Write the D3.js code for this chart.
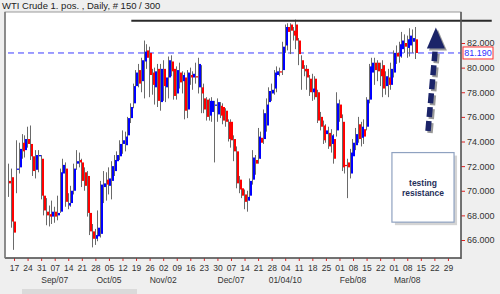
<!DOCTYPE html>
<html>
<head>
<meta charset="utf-8">
<script src="https://cdn.jsdelivr.net/npm/d3@7"></script>
<style>
  body { margin: 0; background: #efefef; }
  svg { display: block; font-family: "Liberation Sans", Arial, sans-serif; }
</style>
</head>
<body>
<svg id="chart" width="500" height="294"></svg>
<script>
// daily bars
const opens  = [70.8,71.1,67.5,71.7,71.9,73.9,73.3,74.2,73.8,72.8,71.7,72.8,72.6,69.6,68.3,68.1,67.9,68.3,68.0,68.3,
                71.4,71.8,68.8,69.0,70.0,72.2,72.5,72.3,71.5,71.2,68.2,66.7,66.1,66.3,66.5,70.3,70.9,70.4,70.8,71.6,
                72.4,72.8,73.8,73.7,74.5,75.9,77.1,78.5,79.8,78.9,80.5,81.4,81.2,79.6,78.4,79.9,77.2,79.9,78.4,79.2,
                80.5,79.9,77.9,79.6,78.9,79.2,76.6,79.4,79.2,79.3,78.4,78.4,77.5,77.4,76.1,76.4,76.9,76.2,76.9,76.8,
                76.5,75.6,75.6,74.2,73.2,70.9,70.2,69.7,69.2,69.6,70.9,72.5,72.6,74.3,74.2,75.3,77.2,77.9,78.3,79.4,
                79.7,79.8,81.8,83.3,83.5,83.0,83.5,82.2,80.6,79.9,79.9,79.1,78.0,79.1,78.0,76.0,75.3,74.6,74.7,73.8,
                74.2,74.9,77.0,75.6,72.1,72.3,71.4,72.8,73.7,75.4,74.3,75.0,75.2,77.4,79.6,80.4,80.4,79.9,80.2,78.5,
                79.2,78.6,79.6,81.2,80.9,81.5,82.0,81.6,81.8,82.1,82.3];
const highs  = [72.2,71.8,67.7,74.1,73.9,74.6,74.5,75.2,75.3,73.4,73.3,73.3,72.9,70.2,69.4,68.8,69.2,68.7,69.6,71.8,
                72.6,72.3,69.8,70.4,72.2,73.3,73.1,72.6,71.9,71.6,68.6,67.3,66.9,68.4,70.8,71.6,71.5,71.9,72.4,72.9,
                73.2,74.1,74.9,74.8,76.0,77.1,78.7,79.8,80.3,80.8,82.2,81.9,81.7,79.9,80.0,80.3,80.3,80.6,79.6,80.9,
                81.0,80.3,80.1,80.4,79.7,79.6,79.8,80.0,79.7,80.4,80.8,80.2,78.7,77.6,77.5,77.6,77.3,77.5,77.2,77.1,
                76.7,75.8,75.8,74.5,73.6,71.2,70.6,70.1,70.0,71.0,73.3,72.9,75.1,74.8,76.6,77.5,78.4,78.7,79.8,80.1,
                80.0,82.1,83.5,83.6,83.6,83.3,83.9,82.4,81.0,80.2,80.2,79.4,79.5,79.3,78.2,76.4,75.7,75.4,75.2,75.0,
                74.6,78.0,77.4,76.2,73.0,72.6,73.4,74.2,75.1,76.0,75.6,75.8,77.6,80.3,80.8,80.8,80.6,80.4,80.6,79.7,
                79.9,80.4,81.4,81.8,82.1,82.9,82.7,82.6,83.2,83.1,83.3];
const lows   = [69.5,67.0,65.2,69.8,71.4,72.6,72.7,73.5,72.5,71.2,71.0,71.5,69.3,68.0,67.2,67.1,67.3,67.4,67.6,68.2,
                71.0,68.7,68.5,68.7,69.7,71.7,71.9,70.3,70.0,67.9,66.4,65.4,65.6,65.9,66.2,69.0,69.2,69.7,69.3,71.2,
                71.6,72.5,73.0,73.2,74.3,75.5,76.7,77.2,78.4,78.0,77.5,79.9,77.6,77.8,77.0,76.8,76.5,77.3,77.2,77.5,
                79.3,77.4,77.4,78.3,77.9,75.8,75.9,78.6,78.2,78.7,77.9,76.3,76.3,75.7,75.7,75.6,72.3,75.6,75.9,75.4,
                75.2,74.0,73.5,72.4,70.2,69.8,69.4,68.5,68.3,69.2,70.5,71.3,72.2,72.6,73.8,74.8,76.5,77.3,77.8,78.0,
                79.3,79.4,81.2,81.4,81.1,82.2,81.5,80.2,78.2,79.3,78.2,77.7,77.3,77.4,75.5,74.9,73.8,73.9,73.4,73.1,
                72.2,74.4,75.6,71.6,71.4,69.4,71.0,72.4,73.3,73.9,73.6,73.8,74.9,77.1,79.0,78.6,78.9,78.5,77.6,77.8,
                77.6,78.2,79.2,80.3,80.4,80.8,81.2,80.8,80.9,81.2,80.7];
const closes = [70.6,67.5,66.6,71.8,73.4,73.2,74.2,73.8,72.8,71.6,72.9,72.9,69.6,68.4,68.0,67.9,68.3,67.9,68.2,71.5,
                72.1,69.1,69.0,70.0,71.8,72.4,72.3,70.8,70.4,68.2,66.7,66.1,66.4,67.0,70.5,70.6,70.5,71.0,72.0,72.5,
                72.9,73.8,74.1,74.4,75.9,76.8,78.5,79.6,78.7,80.6,81.3,80.8,79.4,78.6,79.7,77.3,79.9,78.5,79.2,80.6,
                79.7,77.7,79.8,78.8,79.4,76.5,79.6,79.2,79.5,79.2,80.3,77.9,76.6,76.0,77.3,77.3,77.0,77.2,76.1,75.7,
                75.6,74.2,74.1,73.2,70.6,70.1,69.6,69.1,69.5,70.8,72.7,72.2,74.4,73.9,76.3,77.0,78.1,78.2,79.6,79.7,
                79.6,81.7,83.3,82.9,83.0,82.6,82.2,81.1,79.9,79.7,79.2,78.0,78.3,77.6,75.7,75.2,74.1,74.9,73.6,74.5,
                72.6,77.1,75.9,71.9,72.0,71.9,73.1,73.9,74.6,74.2,75.2,74.4,77.4,80.1,80.4,79.8,79.7,79.3,78.3,79.3,
                78.6,79.9,81.2,80.9,81.9,82.2,81.7,82.3,82.6,82.4,81.19];

const tickLabels  = ['17','24','31','07','14','21','28','05','12','19','26','02','09','16','23','30','07',
                     '14','21','28','04','11','18','25','01','08','15','22','01','08','15','22','29'];
const monthLabels = ['Sep/07','Oct/05','Nov/02','Dec/07','01/04/10','Feb/08','Mar/08'];
const monthAtTick = [3, 7, 11, 16, 20, 25, 29];
const yTicks      = [66, 68, 70, 72, 74, 76, 78, 80, 82];
const lastPrice   = 81.19;
const resistance  = 83.8;

const bars = opens.map((o, i) => ({ i: i, o: o, h: highs[i], l: lows[i], c: closes[i] }));

const svg = d3.select('#chart');
const plot = { left: 5, top: 12, right: 461, bottom: 258 };

// bar index -> px, 5 bars a week
const x = d3.scaleLinear().domain([0, 150]).range([9, 415.8]);
const y = d3.scaleLinear().domain([66, 82]).range([240, 43]);
const tickIdx = tickLabels.map((d, j) => 1.85 + 5 * j);

// title
svg.append('text')
    .attr('x', 2).attr('y', 9)
    .attr('font-size', 9.5).attr('fill', '#222')
    .text('WTI Crude 1. pos. , Daily, # 150 / 300');

// scroll strip at the bottom
svg.append('rect')
    .attr('x', 22).attr('y', 289).attr('width', 115).attr('height', 5)
    .attr('fill', '#dadada');

// plot frame
svg.append('rect')
    .attr('x', plot.left).attr('y', plot.top)
    .attr('width', plot.right - plot.left).attr('height', plot.bottom - plot.top)
    .attr('fill', '#fff').attr('stroke', '#9a9a9a');

// current price dashed line
svg.append('line')
    .attr('x1', plot.left + 3).attr('x2', plot.right)
    .attr('y1', y(lastPrice)).attr('y2', y(lastPrice))
    .attr('stroke', '#3b3bff').attr('stroke-width', 1)
    .attr('stroke-dasharray', '6,4');

// bars
const g = svg.append('g');
g.selectAll('line.wick')
    .data(bars)
    .join('line')
    .attr('class', 'wick')
    .attr('x1', d => Math.round(x(d.i)) - 0.5)
    .attr('x2', d => Math.round(x(d.i)) - 0.5)
    .attr('y1', d => y(d.h))
    .attr('y2', d => y(d.l))
    .attr('stroke', '#6a6a6a').attr('stroke-width', 1);

g.selectAll('rect.body')
    .data(bars)
    .join('rect')
    .attr('class', 'body')
    .attr('x', d => Math.round(x(d.i)))
    .attr('width', 2)
    .attr('y', d => y(Math.max(d.o, d.c)))
    .attr('height', d => Math.max(1, Math.abs(y(d.o) - y(d.c))))
    .attr('fill', d => d.c >= d.o ? '#0000ff' : '#ff0000');

// resistance line
svg.append('line')
    .attr('x1', x(45.1)).attr('x2', x(178))
    .attr('y1', y(resistance)).attr('y2', y(resistance))
    .attr('stroke', '#2a2a2a').attr('stroke-width', 2);

// right axis
const yAxis = svg.append('g')
    .attr('transform', `translate(${plot.right},0)`)
    .call(d3.axisRight(y).tickValues(yTicks).tickSize(4).tickPadding(2)
        .tickFormat(d3.format('.3f')));
yAxis.select('.domain').remove();
yAxis.selectAll('.tick line').attr('stroke', '#e02020');
yAxis.selectAll('.tick text').attr('font-size', 9).attr('fill', '#333')
    .attr('font-family', '"Liberation Sans", Arial, sans-serif');

// bottom axis
const xAxis = svg.append('g')
    .attr('transform', `translate(0,${plot.bottom})`)
    .call(d3.axisBottom(x).tickValues(tickIdx).tickSize(3).tickPadding(4)
        .tickFormat((d, j) => tickLabels[j]));
xAxis.select('.domain').remove();
xAxis.selectAll('.tick line').attr('stroke', '#e02020');
xAxis.selectAll('.tick text').attr('font-size', 8.5).attr('fill', '#333')
    .attr('font-family', '"Liberation Sans", Arial, sans-serif');

// frame edges over the ticks
svg.append('line').attr('x1', plot.right).attr('x2', plot.right)
    .attr('y1', plot.top).attr('y2', plot.bottom + 1)
    .attr('stroke', '#555').attr('stroke-width', 1.5);
svg.append('line').attr('x1', plot.left).attr('x2', plot.right)
    .attr('y1', plot.bottom).attr('y2', plot.bottom)
    .attr('stroke', '#555').attr('stroke-width', 1.5);
svg.append('line').attr('x1', plot.left).attr('x2', plot.left)
    .attr('y1', plot.top).attr('y2', plot.bottom)
    .attr('stroke', '#777').attr('stroke-width', 1.5);

// month labels
svg.append('g').selectAll('text')
    .data(monthLabels)
    .join('text')
    .attr('x', (d, k) => x(tickIdx[monthAtTick[k]]))
    .attr('y', 283)
    .attr('text-anchor', 'middle')
    .attr('font-size', 8.5).attr('fill', '#333')
    .text(d => d);

// last price box
const lp = svg.append('g').attr('transform', `translate(${plot.right + 2},${y(lastPrice)})`);
lp.append('rect')
    .attr('x', 0).attr('y', -6).attr('width', 30).attr('height', 12)
    .attr('fill', '#fff').attr('stroke', '#ff3030');
lp.append('text')
    .attr('x', 15).attr('y', 3.3).attr('text-anchor', 'middle')
    .attr('font-size', 9).attr('fill', '#3030ff')
    .text(d3.format('.3f')(lastPrice));

// note box
const box = { i0: 141.2, i1: 164.1, v0: 73.1, v1: 67.45 };
svg.append('rect')
    .attr('x', x(box.i0) + 3).attr('y', y(box.v0) + 3)
    .attr('width', x(box.i1) - x(box.i0)).attr('height', y(box.v1) - y(box.v0))
    .attr('fill', '#b8b8b8').attr('opacity', 0.6);
svg.append('rect')
    .attr('x', x(box.i0)).attr('y', y(box.v0))
    .attr('width', x(box.i1) - x(box.i0)).attr('height', y(box.v1) - y(box.v0))
    .attr('fill', '#fff').attr('stroke', '#8fa2c0').attr('stroke-width', 1.2);
const cx = (x(box.i0) + x(box.i1)) / 2;
svg.append('text').attr('x', cx).attr('y', 186).attr('text-anchor', 'middle')
    .attr('font-size', 8.5).attr('font-weight', 'bold').attr('fill', '#1f2f5a')
    .text('testing');
svg.append('text').attr('x', cx).attr('y', 196).attr('text-anchor', 'middle')
    .attr('font-size', 8.5).attr('font-weight', 'bold').attr('fill', '#1f2f5a')
    .text('resistance');

// arrow
const tail = [x(154.5), y(74.85)];
const neck = [x(157.1), y(81.3)];
const tip  = [x(157.4), y(83.25)];
const arrow = svg.append('g');
[['#9a9a9a', 2], ['#1b2468', 0]].forEach(([col, off]) => {
    arrow.append('line')
        .attr('x1', tail[0] + off).attr('y1', tail[1] + off)
        .attr('x2', neck[0] + off).attr('y2', neck[1] + off)
        .attr('stroke', col).attr('stroke-width', 5.5)
        .attr('stroke-dasharray', '10,4');
    arrow.append('path')
        .attr('d', `M${tip[0] + off},${tip[1] + off} L${tip[0] + 9 + off},${neck[1] - 3 + off} L${tip[0] - 9 + off},${neck[1] - 3 + off} Z`)
        .attr('fill', col);
});
</script>
</body>
</html>
